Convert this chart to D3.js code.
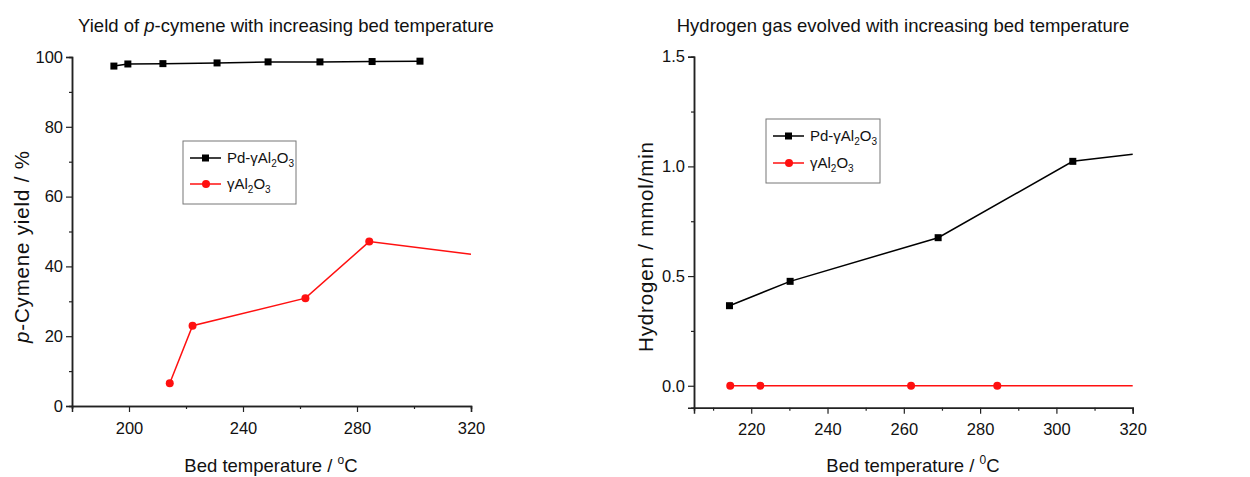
<!DOCTYPE html>
<html>
<head>
<meta charset="utf-8">
<script src="https://cdn.jsdelivr.net/npm/d3@7"></script>
<style>
  body { margin: 0; background: #fff; }
  svg { font-family: "Liberation Sans", Arial, sans-serif; }
</style>
</head>
<body>
<svg id="chart" width="1250" height="477"></svg>
<script>
// values
var leftTempPd = [194.7, 199.6, 211.9, 230.9, 248.8, 267, 285.3, 302.1],
    leftYieldPd = [97.4, 98.0, 98.1, 98.3, 98.6, 98.6, 98.7, 98.8],
    leftTempAl = [214.3, 222.3, 261.9, 284.3, 320],
    leftYieldAl = [6.5, 23, 30.9, 47.1, 43.5];

var rightTempPd = [214.3, 230.2, 269, 304.3, 320],
    rightH2Pd = [0.365, 0.476, 0.675, 1.023, 1.055],
    rightTempAl = [214.5, 222.4, 261.9, 284.5, 320],
    rightH2Al = [0, 0, 0, 0, 0];

var leftXTicks = [200, 240, 280, 320],
    leftXMinor = [180, 220, 260, 300],
    leftYTicks = [0, 20, 40, 60, 80, 100],
    leftYMinor = [10, 30, 50, 70, 90],
    rightXTicks = [220, 240, 260, 280, 300, 320],
    rightXMinor = [210, 230, 250, 270, 290, 310],
    rightYTicks = [0, 0.5, 1.0, 1.5],
    rightYMinor = [0.25, 0.75, 1.25];

var color_pd = '#000000',
    color_al = '#ff1010';

var svg = d3.select('#chart');

function zip(xs, ys) {
    return xs.map((x, i) => ({x: x, y: ys[i]}));
}

function drawPanel(p) {
    var x = d3.scaleLinear().domain(p.xDomain).range(p.xRange);
    var y = d3.scaleLinear().domain(p.yDomain).range(p.yRange);
    var G = svg.append('g');

    // axes: left and bottom only, ticks outward
    var xAxis = G.append('g').attr('transform', 'translate(0,' + p.yRange[0] + ')')
        .call(d3.axisBottom(x).tickValues(p.xTicks).tickSize(6).tickPadding(10).tickFormat(d3.format('d')));
    xAxis.append('g').call(d3.axisBottom(x).tickValues(p.xMinor).tickSize(3).tickFormat(''));
    var yAxis = G.append('g').attr('transform', 'translate(' + p.xRange[0] + ',0)')
        .call(d3.axisLeft(y).tickValues(p.yTicks).tickSize(6).tickPadding(3).tickFormat(p.yFormat));
    yAxis.append('g').call(d3.axisLeft(y).tickValues(p.yMinor).tickSize(3).tickFormat(''));

    G.selectAll('.domain').attr('stroke', '#222').attr('stroke-width', 1.5);
    G.selectAll('.tick line').attr('stroke', '#222').attr('stroke-width', 1.2);
    G.selectAll('.tick text').attr('font-size', '16.5px').attr('fill', '#111')
        .attr('font-family', '"Liberation Sans", Arial, sans-serif');

    // series
    var line = d3.line().x(d => x(d.x)).y(d => y(d.y));
    p.series.forEach(s => {
        G.append('path').datum(s.data)
            .attr('d', line)
            .attr('fill', 'none')
            .attr('stroke', s.color)
            .attr('stroke-width', 1.5);
        // points at the right edge carry no marker in the original
        var pts = s.data.filter(d => d.x < p.xDomain[1]);
        if (s.shape === 'square') {
            G.selectAll(null).data(pts).enter().append('rect')
                .attr('x', d => x(d.x) - 3.5).attr('y', d => y(d.y) - 3.5)
                .attr('width', 7).attr('height', 7).attr('fill', s.color);
        } else {
            G.selectAll(null).data(pts).enter().append('circle')
                .attr('cx', d => x(d.x)).attr('cy', d => y(d.y))
                .attr('r', 4).attr('fill', s.color);
        }
    });

    // titles
    var title = G.append('text')
        .attr('x', p.titleX).attr('y', 32)
        .attr('text-anchor', 'middle').attr('font-size', '18.5px').attr('fill', '#111');
    p.title.forEach(t => title.append('tspan').attr('font-style', t.italic ? 'italic' : null).text(t.s));

    var xt = G.append('text')
        .attr('x', p.xTitleX).attr('y', 472)
        .attr('text-anchor', 'middle').attr('font-size', '18.5px').attr('fill', '#111');
    xt.append('tspan').text('Bed temperature / ');
    xt.append('tspan').attr('font-size', '12px').attr('dy', -8).text(p.degree);
    xt.append('tspan').attr('dy', 8).text('C');

    var yt = G.append('text')
        .attr('transform', 'translate(' + p.yTitleX + ',' + p.yTitleY + ') rotate(-90)')
        .attr('text-anchor', 'middle').attr('font-size', '20.5px').attr('fill', '#111')
        .attr('textLength', p.yTitleLen).attr('lengthAdjust', 'spacing');
    p.yTitle.forEach(t => yt.append('tspan').attr('font-style', t.italic ? 'italic' : null).text(t.s));

    // legend
    var L = p.legend;
    G.append('rect')
        .attr('x', L.x).attr('y', L.y).attr('width', L.w).attr('height', L.h)
        .attr('fill', '#fff').attr('stroke', '#777').attr('stroke-width', 1);
    p.series.forEach((s, i) => {
        var ly = L.y + L.row0 + i * L.rowGap;
        G.append('line').attr('x1', L.x + 7).attr('x2', L.x + 38)
            .attr('y1', ly).attr('y2', ly).attr('stroke', s.color).attr('stroke-width', 1.5);
        if (s.shape === 'square') {
            G.append('rect').attr('x', L.x + 19).attr('y', ly - 3.5).attr('width', 7).attr('height', 7).attr('fill', s.color);
        } else {
            G.append('circle').attr('cx', L.x + 23).attr('cy', ly).attr('r', 4).attr('fill', s.color);
        }
        var lt = G.append('text').attr('x', L.x + 44).attr('y', ly + 5)
            .attr('font-size', '15px').attr('fill', '#111');
        lt.append('tspan').text(s.name);
        lt.append('tspan').attr('font-size', '10px').attr('dy', 4).text('2');
        lt.append('tspan').attr('dy', -4).text('O');
        lt.append('tspan').attr('font-size', '10px').attr('dy', 4).text('3');
    });
}

drawPanel({
    xDomain: [180, 320], xRange: [72, 471],
    yDomain: [0, 100], yRange: [406, 57],
    xTicks: leftXTicks, xMinor: leftXMinor,
    yTicks: leftYTicks, yMinor: leftYMinor, yFormat: d3.format('d'),
    title: [{s: 'Yield of '}, {s: 'p', italic: true}, {s: '-cymene with increasing bed temperature'}],
    titleX: 286,
    xTitleX: 271, degree: 'o',
    yTitle: [{s: 'p', italic: true}, {s: '-Cymene yield / %'}],
    yTitleX: 29, yTitleY: 247, yTitleLen: 192,
    legend: {x: 183, y: 141, w: 113, h: 63, row0: 17, rowGap: 26},
    series: [
        {name: 'Pd-γAl', color: color_pd, shape: 'square', data: zip(leftTempPd, leftYieldPd)},
        {name: 'γAl', color: color_al, shape: 'circle', data: zip(leftTempAl, leftYieldAl)}
    ]
});

drawPanel({
    xDomain: [205, 320], xRange: [694, 1132.7],
    yDomain: [-0.1, 1.5], yRange: [407.7, 56.7],
    xTicks: rightXTicks, xMinor: rightXMinor,
    yTicks: rightYTicks, yMinor: rightYMinor, yFormat: d3.format('.1f'),
    title: [{s: 'Hydrogen gas evolved with increasing bed temperature'}],
    titleX: 903,
    xTitleX: 913, degree: '0',
    yTitle: [{s: 'Hydrogen / mmol/min'}],
    yTitleX: 653, yTitleY: 247, yTitleLen: 210,
    legend: {x: 766, y: 119, w: 114, h: 64, row0: 17, rowGap: 27},
    series: [
        {name: 'Pd-γAl', color: color_pd, shape: 'square', data: zip(rightTempPd, rightH2Pd)},
        {name: 'γAl', color: color_al, shape: 'circle', data: zip(rightTempAl, rightH2Al)}
    ]
});
</script>
</body>
</html>
